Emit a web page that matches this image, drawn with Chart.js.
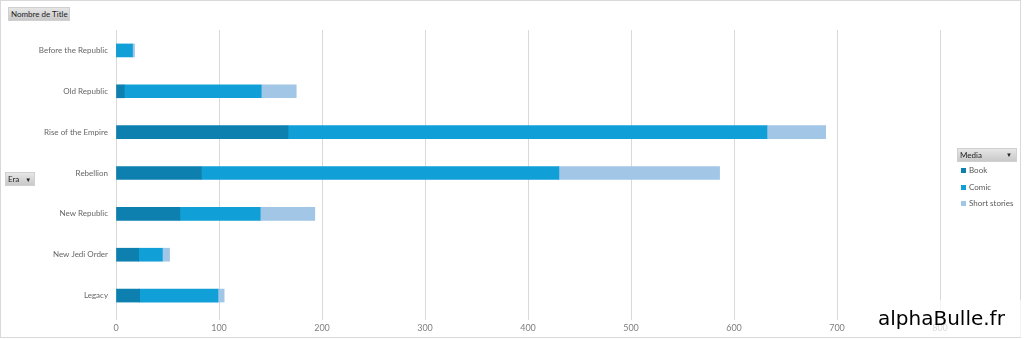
<!DOCTYPE html>
<html><head><meta charset="utf-8">
<script src="https://cdn.jsdelivr.net/npm/chart.js@4/dist/chart.umd.min.js"></script>
<style>
html,body{margin:0;padding:0;background:#fff;width:1024px;height:339px;overflow:hidden;font-family:Lato,"Liberation Sans",sans-serif;}
#wrap{position:absolute;left:0;top:0;width:1024px;height:339px;}
#frame{position:absolute;left:0;top:0;width:1019px;height:336px;border:1px solid #d9d9d9;pointer-events:none;}
.btn{position:absolute;background:linear-gradient(#e6e6e6,#c9c9c9);border:1px solid #d0d0d0;color:#222;font-size:8px;line-height:12px;padding:0 2px;box-sizing:border-box;height:14px;white-space:nowrap;overflow:hidden;}
.leg{position:absolute;font-size:8px;color:#595959;white-space:nowrap;}
.sw{position:absolute;width:5px;height:5px;}
#wm{position:absolute;left:870px;top:300px;width:152px;height:37px;background:rgba(255,255,255,0.7);font-family:"DejaVu Sans",sans-serif;font-size:20px;color:#000;line-height:37px;padding-left:8px;box-sizing:border-box;white-space:nowrap;}
</style></head><body>
<div id="wrap"><canvas id="c" width="1024" height="339"></canvas></div>
<div id="frame"></div>
<div class="btn" style="left:8px;top:7px;width:62px;">Nombre de Title</div>
<div class="btn" style="left:5px;top:172px;width:30px;">Era<span style="font-size:6px;margin-left:6px;">▼</span></div>
<div class="btn" style="left:957px;top:148px;width:60px;">Media<span style="font-size:6px;position:absolute;right:4px;">▼</span></div>
<div id="legend"></div>
<div id="wm">alphaBulle.fr</div>
<script>
const eras = ["Before the Republic","Old Republic","Rise of the Empire","Rebellion","New Republic","New Jedi Order","Legacy"];
const book = [0, 8, 167, 83, 62, 22, 23];
const comic = [16, 133, 465, 347, 78, 23, 76];
const shortStories = [2, 34, 57, 156, 53, 7, 6];
const xTicks = [0,100,200,300,400,500,600,700,800];
const seriesNames = ["Book","Comic","Short stories"];
const seriesColors = ["#0e80b0","#109fd7","#a2c6e6"];

const lg = document.getElementById('legend');
seriesNames.forEach((n,i)=>{
  const y = 167 + i*16.5;
  const s = document.createElement('div'); s.className='sw'; s.style.left='961px'; s.style.top=(y+1)+'px'; s.style.background=seriesColors[i]; lg.appendChild(s);
  const t = document.createElement('div'); t.className='leg'; t.style.left='969px'; t.style.top=(y-2)+'px'; t.textContent=n; lg.appendChild(t);
});

new Chart(document.getElementById('c'), {
  type:'bar',
  data:{labels:eras, datasets:[book,comic,shortStories].map((d,i)=>({label:seriesNames[i],data:d,backgroundColor:seriesColors[i],barThickness:13,borderWidth:0}))},
  options:{
    indexAxis:'y', responsive:false, animation:false,
    layout:{padding:{left:0,right:84,top:30,bottom:0}},
    plugins:{legend:{display:false},tooltip:{enabled:false}},
    scales:{
      x:{stacked:true,min:0,max:800,
        afterBuildTicks:(s)=>{s.ticks=xTicks.map(v=>({value:v}));},
        grid:{color:'#d9d9d9',lineWidth:1,drawTicks:true,tickLength:4,tickColor:'#d9d9d9'},
        border:{display:false},
        ticks:{color:'#7f7f7f',font:{family:'Lato',size:9},padding:3},
        afterFit:(s)=>{s.height=23;}
      },
      y:{stacked:true,
        grid:{display:false},border:{display:false},
        ticks:{color:'#666666',font:{family:'Lato',size:8},padding:0},
        afterFit:(s)=>{s.width=116;}
      }
    }
  }
});
</script>
</body></html>
